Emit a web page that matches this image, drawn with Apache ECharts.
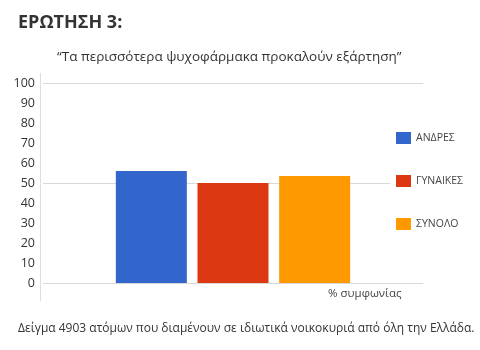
<!DOCTYPE html>
<html><head><meta charset="utf-8">
<script src="https://cdn.jsdelivr.net/npm/echarts@6/dist/echarts.min.js"></script>
<style>html,body{margin:0;padding:0;background:#fff}#c{width:480px;height:350px}</style>
</head><body><div id="c"></div>
<script>
var seriesNames = ['ΑΝΔΡΕΣ', 'ΓΥΝΑΙΚΕΣ', 'ΣΥΝΟΛΟ'];
var seriesValues = [56, 50, 53.5];
var seriesColors = ['#3366CC', '#DC3912', '#FF9900'];
var categories = [''];
var titleText = 'ΕΡΩΤΗΣΗ 3:';
var subtitleText = '“Τα περισσότερα ψυχοφάρμακα προκαλούν εξάρτηση”';
var axisNameText = '% συμφωνίας';
var footerText = 'Δείγμα 4903 ατόμων που διαμένουν σε ιδιωτικά νοικοκυριά από όλη την Ελλάδα.';
var FONT = '"Open Sans", "Noto Sans", sans-serif';

var chart = echarts.init(document.getElementById('c'));
var series = seriesNames.map(function (n, i) {
  return {
    name: n, type: 'bar', yAxisIndex: 0,
    data: [seriesValues[i]],
    itemStyle: { color: seriesColors[i] },
    barWidth: 71, barGap: '15%'
  };
});
chart.setOption({
  animation: false,
  textStyle: { fontFamily: FONT },
  grid: { left: 43, right: 57, top: 83, bottom: 67 },
  legend: {
    orient: 'vertical', left: 390, top: 126, padding: 6,
    backgroundColor: '#fff',
    itemWidth: 15, itemHeight: 12, itemGap: 31, icon: 'rect',
    textStyle: { fontSize: 10.5, color: '#444', fontFamily: FONT },
    data: seriesNames
  },
  xAxis: {
    type: 'category', data: categories,
    axisLine: { show: false }, axisTick: { show: false }, axisLabel: { show: false }
  },
  yAxis: [
    {
      type: 'value', min: 0, max: 100, interval: 10,
      axisLine: { show: false }, axisTick: { show: false },
      splitLine: { show: false },
      axisLabel: { margin: 8, fontSize: 12.5, color: '#333', fontFamily: FONT }
    },
    {
      type: 'value', min: 0, max: 100, interval: 50, position: 'left',
      axisLine: { show: false }, axisTick: { show: false },
      axisLabel: { show: false },
      splitLine: { lineStyle: { color: '#d9d9d9', width: 1 } }
    }
  ],
  series: series,
  graphic: [
    { type: 'line', shape: { x1: 40.5, y1: 73, x2: 40.5, y2: 301 }, style: { stroke: '#dddddd', lineWidth: 1 } },
    { type: 'text', left: 18, top: 14, style: { text: titleText, font: 'bold 18px ' + FONT, fill: '#333' } },
    { type: 'text', left: 57, top: 50, style: { text: subtitleText, font: '13.5px ' + FONT, fill: '#333' } },
    { type: 'text', left: 328, top: 288, style: { text: axisNameText, font: '11.5px ' + FONT, fill: '#444' } },
    { type: 'text', left: 18, top: 323, style: { text: footerText, font: '12px ' + FONT, fill: '#333' } }
  ]
});
</script></body></html>
